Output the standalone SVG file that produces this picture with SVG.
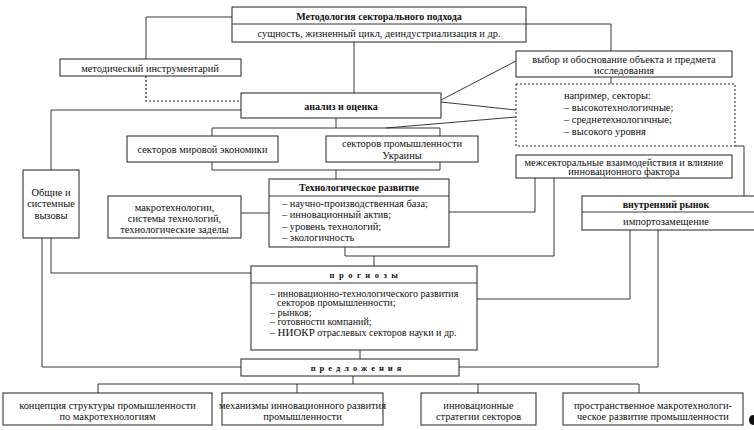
<svg xmlns="http://www.w3.org/2000/svg" width="754" height="430" viewBox="0 0 754 430">
<style>
.b{fill:#fff;stroke:#222;stroke-width:1}
.d{fill:#fff;stroke:#222;stroke-width:1;stroke-dasharray:2,2}
.c{fill:none;stroke:#222;stroke-width:0.9}
.cd{fill:none;stroke:#222;stroke-width:1.2;stroke-dasharray:2,2}
text{font-family:'Liberation Serif','Times New Roman',serif;font-size:10.4px;fill:#111;dominant-baseline:central}
.m{text-anchor:middle}
.t{font-weight:bold;font-size:10px}
.s{font-weight:bold;font-size:8.5px;letter-spacing:4.5px}
.f{font-size:10px}
</style>
<rect width="754" height="430" fill="#fff"/>
<g id="connectors">
<polyline class="c" points="232,17 146,17 146,59"/>
<polyline class="cd" points="146,76 146,101 241,101"/>
<line class="c" x1="354" y1="42" x2="354" y2="93"/>
<polyline class="c" points="526,24 611,24 611,51"/>
<line class="c" x1="611" y1="77" x2="611" y2="84"/>
<line class="c" x1="441" y1="100" x2="516" y2="61"/>
<line class="c" x1="441" y1="102" x2="516" y2="110"/>
<line class="c" x1="386" y1="128" x2="516" y2="117"/>
<polyline class="c" points="241,110 51,110 51,170"/>
<polyline class="c" points="51,238 51,273 251,273"/>
<polyline class="c" points="42,238 42,367 241,367"/>
<line class="c" x1="336" y1="118" x2="336" y2="128"/>
<polyline class="c" points="212,136 212,128 440,128 440,136"/>
<polyline class="c" points="212,162 212,170 440,170 440,162"/>
<line class="c" x1="336" y1="170" x2="336" y2="179"/>
<line class="c" x1="241" y1="213" x2="269" y2="213"/>
<polyline class="c" points="449,212 535,212 535,178"/>
<polyline class="c" points="345,247 345,256 554,256 554,178"/>
<line class="c" x1="374" y1="256" x2="374" y2="266"/>
<polyline class="c" points="735,146 744,146 744,196"/>
<polyline class="c" points="630,230 630,299 477,299"/>
<polyline class="c" points="658,230 658,367 459,367"/>
<line class="c" x1="360" y1="350" x2="360" y2="359"/>
<line class="c" x1="353" y1="376" x2="353" y2="384"/>
<line class="c" x1="98" y1="384" x2="639" y2="384"/>
<line class="c" x1="98" y1="384" x2="98" y2="393"/>
<line class="c" x1="297" y1="384" x2="297" y2="393"/>
<line class="c" x1="478" y1="384" x2="478" y2="393"/>
<line class="c" x1="639" y1="384" x2="639" y2="393"/>
</g>
<g id="methodology">
<rect class="b" x="232" y="7" width="294" height="35"/>
<line class="c" x1="232" y1="24" x2="526" y2="24"/>
<text class="m t" x="379" y="16">Методология секторального подхода</text>
<text class="m" x="379" y="33">сущность, жизненный цикл, деиндустриализация и др.</text>
</g>
<g id="instrument">
<rect class="b" x="60" y="59" width="181" height="17"/>
<text class="m" x="150" y="68">методический инструментарий</text>
</g>
<g id="choice">
<rect class="b" x="516" y="51" width="216" height="26"/>
<text class="m" x="624" y="59">выбор и обоснование объекта и предмета</text>
<text class="m" x="624" y="70.5">исследования</text>
</g>
<g id="example">
<rect class="d" x="516" y="84" width="219" height="62"/>
<text x="564" y="95">например, секторы:</text>
<text x="564" y="107.5">– высокотехнологичные;</text>
<text x="564" y="119.5">– среднетехнологичные;</text>
<text x="564" y="131.5">– высокого уровня</text>
</g>
<g id="analysis">
<rect class="b" x="241" y="93" width="200" height="25"/>
<text class="m t" x="341" y="106">анализ и оценка</text>
</g>
<g id="world">
<rect class="b" x="127" y="136" width="151" height="26"/>
<text class="m" x="202.5" y="149">секторов мировой экономики</text>
</g>
<g id="ukraine">
<rect class="b" x="326" y="136" width="152" height="26"/>
<text class="m" x="402" y="143.5">секторов промышленности</text>
<text class="m" x="402" y="155">Украины</text>
</g>
<g id="challenges">
<rect class="b" x="23" y="170" width="56" height="68"/>
<text class="m" x="51" y="192">Общие и</text>
<text class="m" x="51" y="203.5">системные</text>
<text class="m" x="51" y="215">вызовы</text>
</g>
<g id="macro">
<rect class="b" x="108" y="196" width="133" height="42"/>
<text class="m" x="174.5" y="207">макротехнологии,</text>
<text class="m" x="174.5" y="218">системы технологий,</text>
<text class="m" x="174.5" y="229">технологические заделы</text>
</g>
<g id="tech">
<rect class="b" x="269" y="179" width="180" height="68"/>
<line class="c" x1="269" y1="196" x2="449" y2="196"/>
<text class="m t" x="359" y="187.5">Технологическое развитие</text>
<text x="282" y="203.5">– научно-производственная база;</text>
<text x="282" y="214.5">– инновационный актив;</text>
<text x="282" y="226">– уровень технологий;</text>
<text x="282" y="237">– экологичность</text>
</g>
<g id="intersector">
<rect class="b" x="516" y="155" width="216" height="23"/>
<text class="m" x="624" y="162">межсекторальные взаимодействия и влияние</text>
<text class="m" x="624" y="171.5">инновационного фактора</text>
</g>
<g id="market">
<rect class="b" x="582" y="196" width="180" height="34"/>
<line class="c" x1="582" y1="212" x2="762" y2="212"/>
<text class="m t" x="666" y="204">внутренний рынок</text>
<text class="m" x="666" y="221">импортозамещение</text>
</g>
<g id="forecasts">
<rect class="b" x="251" y="266" width="226" height="84"/>
<line class="c" x1="251" y1="283" x2="477" y2="283"/>
<text class="m s" x="366" y="274.5">прогнозы</text>
<text class="f" x="270" y="293">– инновационно-технологического развития</text>
<text class="f" x="277" y="302.5">секторов промышленности;</text>
<text class="f" x="270" y="312">– рынков;</text>
<text class="f" x="270" y="321.5">– готовности компаний;</text>
<text class="f" x="270" y="332">– <tspan font-size="11px">НИОКР</tspan> отраслевых секторов науки и др.</text>
</g>
<g id="proposals">
<rect class="b" x="241" y="359" width="218" height="17"/>
<text class="m s" x="358" y="367.5" style="letter-spacing:4px">предложения</text>
</g>
<g id="concept">
<rect class="b" x="3" y="393" width="209" height="32"/>
<text class="m" x="107.5" y="405.5">концепция структуры промышленности</text>
<text class="m" x="107.5" y="416">по макротехнологиям</text>
</g>
<g id="mechanisms">
<rect class="b" x="222" y="393" width="161" height="32"/>
<text class="m" x="302.5" y="405.5">механизмы инновационного развития</text>
<text class="m" x="302.5" y="416">промышленности</text>
</g>
<g id="strategies">
<rect class="b" x="421" y="393" width="115" height="32"/>
<text class="m" x="478.5" y="405.5">инновационные</text>
<text class="m" x="478.5" y="416">стратегии секторов</text>
</g>
<g id="spatial">
<rect class="b" x="563" y="393" width="180" height="32"/>
<text class="m" x="653" y="405.5">пространственное макротехнологи-</text>
<text class="m" x="653" y="416">ческое развитие промышленности</text>
</g>
<ellipse cx="753" cy="420" rx="4" ry="5" fill="#111"/>
</svg>
